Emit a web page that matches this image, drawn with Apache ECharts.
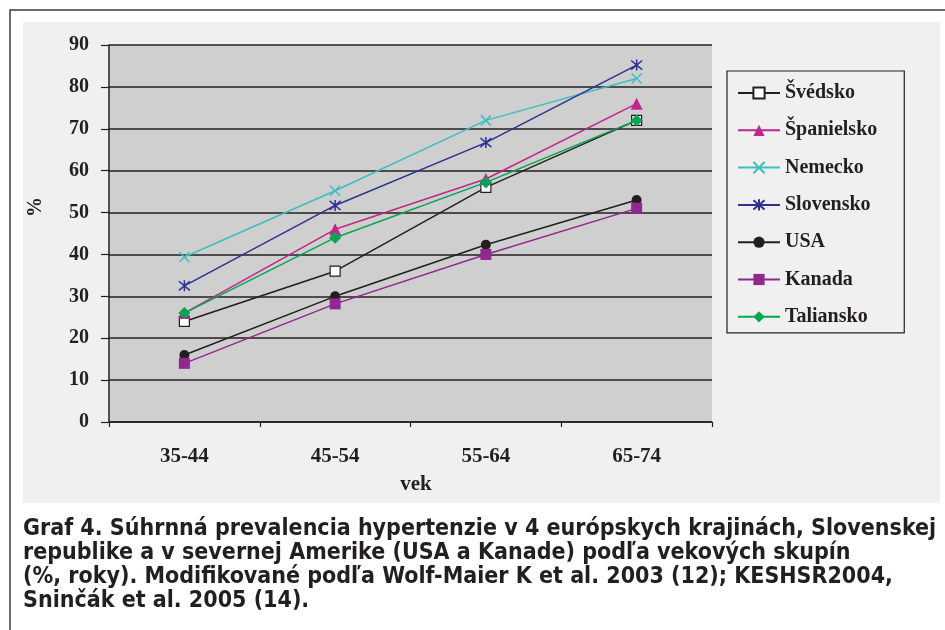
<!DOCTYPE html>
<html>
<head>
<meta charset="utf-8">
<script src="https://cdn.jsdelivr.net/npm/echarts@6/dist/echarts.min.js"></script>
<style>html,body{margin:0;padding:0;background:#fff}#c{width:945px;height:630px}</style>
</head>
<body>
<div id="c"></div>
<script>
const categories = ['35-44', '45-54', '55-64', '65-74'];
const seriesNames = ['Švédsko', 'Španielsko', 'Nemecko', 'Slovensko', 'USA', 'Kanada', 'Taliansko'];
const svedsko = [24, 36, 56, 72];
const spanielsko = [26, 46, 58, 76];
const nemecko = [39.4, 55.2, 72, 82];
const slovensko = [32.5, 51.7, 66.7, 85.2];
const usa = [16, 30, 42.3, 53];
const kanada = [14, 28.2, 40, 51];
const taliansko = [26, 44, 57.2, 72];
const yMin = 0, yMax = 90, yStep = 10;
const xTitle = 'vek';
const yTitle = '%';
const caption = 'Graf 4. Súhrnná prevalencia hypertenzie v 4 európskych krajinách, Slovenskej\nrepublike a v severnej Amerike (USA a Kanade) podľa vekových skupín\n(%, roky). Modifikované podľa Wolf-Maier K et al. 2003 (12); KESHSR2004,\nSninčák et al. 2005 (14).';

const ink = '#231f20';
const serif = "'Liberation Serif', 'Times New Roman', serif";
const styles = [
  {color: ink, symbol: 'rect', size: 10, fill: '#ffffff', border: ink, bw: 1.2},
  {color: '#c1268f', symbol: 'triangle', size: 12, fill: '#c1268f'},
  {color: '#3cbfc0', symbol: 'path://M0,0L10,10M10,0L0,10', size: 10, fill: 'none', border: '#3cbfc0', bw: 1.5},
  {color: '#2e3192', symbol: 'path://M0,0L10,10M10,0L0,10M5,-1L5,11', size: 11, fill: 'none', border: '#2e3192', bw: 1.5},
  {color: ink, symbol: 'circle', size: 10, fill: ink},
  {color: '#92278f', symbol: 'rect', size: 11, fill: '#92278f'},
  {color: '#00a651', symbol: 'diamond', size: 12, fill: '#00a651'}
];
const values = [svedsko, spanielsko, nemecko, slovensko, usa, kanada, taliansko];

const series = seriesNames.map((name, i) => {
  const s = styles[i];
  return {
    name: name,
    type: 'line',
    data: values[i],
    symbol: s.symbol,
    symbolSize: s.size,
    showAllSymbol: true,
    lineStyle: {color: s.color, width: 1.5},
    itemStyle: {color: s.fill, borderColor: s.border || s.fill, borderWidth: s.bw || 0, opacity: 1},
    emphasis: {disabled: true},
    animation: false,
    z: 3 + i
  };
});

const chart = echarts.init(document.getElementById('c'), null, {renderer: 'canvas'});
chart.setOption({
  backgroundColor: '#ffffff',
  animation: false,
  graphic: [
    {type: 'polyline', shape: {points: [[10, 640], [10, 10], [950, 10]]}, style: {stroke: '#3a3a3a', lineWidth: 1.5, fill: null}, z: -10},
    {type: 'rect', shape: {x: 23, y: 22, width: 917, height: 481}, style: {fill: '#f0f0f0'}, z: -10},
    {type: 'text', x: 36, y: 207, rotation: Math.PI / 2, style: {text: yTitle, font: "bold 20px " + serif, fill: ink, align: 'center', verticalAlign: 'middle'}, z: 5},
    {type: 'text', left: 23, top: 517, style: {text: caption, font: "bold 23px 'DejaVu Sans Condensed', 'DejaVu Sans', sans-serif", fill: ink, lineHeight: 24}, z: 5}
  ],
  grid: {left: 109, right: 233, top: 45, bottom: 208, show: true, backgroundColor: '#cfcfcf', borderWidth: 0},
  legend: {
    orient: 'vertical',
    left: 727, top: 71,
    padding: [12, 27, 6, 10],
    borderColor: ink, borderWidth: 1.2,
    backgroundColor: 'transparent',
    itemWidth: 42, itemHeight: 14, itemGap: 17.3,
    textStyle: {fontFamily: serif, fontWeight: 'bold', fontSize: 20, color: ink, lineHeight: 20},
    data: seriesNames,
    selectedMode: false
  },
  xAxis: {
    type: 'category',
    data: categories,
    boundaryGap: true,
    axisLine: {lineStyle: {color: ink, width: 1.5}},
    axisTick: {show: true, length: 5, lineStyle: {color: ink, width: 1.2}},
    axisLabel: {fontFamily: serif, fontWeight: 'bold', fontSize: 21, color: ink, margin: 24},
    name: xTitle,
    nameLocation: 'middle',
    nameGap: 52,
    nameTextStyle: {fontFamily: serif, fontWeight: 'bold', fontSize: 21, color: ink, padding: [0, 0, 0, 11]},
    splitLine: {show: false}
  },
  yAxis: {
    type: 'value',
    min: yMin, max: yMax, interval: yStep,
    axisLine: {show: true, lineStyle: {color: ink, width: 1.5}},
    axisTick: {show: true, length: 8, lineStyle: {color: ink, width: 1.2}},
    axisLabel: {fontFamily: serif, fontWeight: 'bold', fontSize: 20, color: ink, margin: 20},
    splitLine: {show: true, lineStyle: {color: ink, width: 1.5}}
  },
  series: series
});
</script>
</body>
</html>
